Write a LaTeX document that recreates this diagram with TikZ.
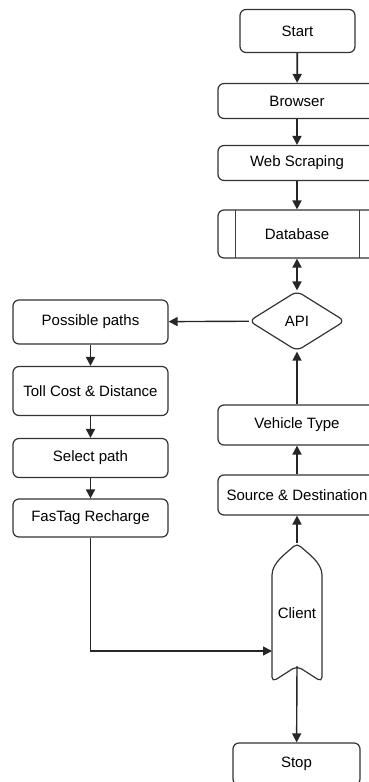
\documentclass[tikz,border=0pt]{standalone}
\usepackage{fontspec}
\setmainfont{Liberation Sans}
\usetikzlibrary{shapes.geometric,arrows.meta}
\begin{document}
\begin{tikzpicture}[x=1pt,y=-1pt,
  every node/.style={font=\fontsize{15}{18}\selectfont},
  box/.style={draw=black!80,line width=1.2pt,rounded corners=6pt,minimum width=155pt,minimum height=38pt,inner sep=0pt,align=center},
  flow/.style={-{Triangle[length=9pt,width=9pt]},draw=black!85,line width=1.8pt}]
  \useasboundingbox (0,0) rectangle (369,782);
  % Right column: collecting data
  \node[box,minimum width=115pt,minimum height=43pt] (start) at (297.5,31) {Start};
  \node[box,minimum width=158pt,minimum height=35pt] (browser) at (297,101) {Browser};
  \node[box,minimum width=158pt,minimum height=35pt] (scrape) at (297,163) {Web Scraping};
  \node[box,minimum width=158pt,minimum height=48pt] (db) at (297,234) {Database};
  \draw[black!75,line width=1pt] (235,210) -- (235,258) (359,210) -- (359,258);
  \node[draw=black!80,line width=1.2pt,diamond,rounded corners=6pt,aspect=1.6,minimum width=96pt,minimum height=60pt,inner sep=0pt] (api) at (297,321) {API};
  \draw[flow] (start) -- (browser);
  \draw[flow] (browser) -- (scrape);
  \draw[flow] (scrape) -- (db);
  \draw[flow,{Triangle[length=9pt,width=9pt]}-{Triangle[length=9pt,width=9pt]}] (db) -- (api);
  % Left column: route and payment
  \node[box,minimum height=44pt] (paths) at (90.5,322) {Possible paths};
  \node[box,minimum height=49pt] (toll) at (90.5,391) {Toll Cost \& Distance};
  \node[box,minimum height=39pt] (select) at (90.5,458) {Select path};
  \node[box,minimum height=38pt] (fastag) at (90.5,518) {FasTag Recharge};
  \draw[flow,line width=1.4pt] (api) -- (paths);
  \draw[flow] (paths) -- (toll);
  \draw[flow] (toll) -- (select);
  \draw[flow] (select) -- (fastag);
  % Client side
  \node[box,minimum width=158pt,minimum height=40pt] (vehicle) at (297,425) {Vehicle Type};
  \node[box,minimum width=158pt,minimum height=40pt] (src) at (297,495) {Source \& Destination};
  \node[minimum width=50pt,minimum height=140pt,inner sep=0pt] (client) at (297,613) {};
  \node at (297,613) {Client};
  \draw[black!80,line width=1.2pt,rounded corners=5pt] (272,682) -- (272,580)
    .. controls (272,562) and (288,552) .. (297,543)
    .. controls (306,552) and (322,562) .. (322,580) -- (322,682) -- (297,666) -- cycle;
  \coordinate (ctop) at (297,543);
  \coordinate (cin) at (272,651);
  \coordinate (cout) at (297,666);
  \node[box,minimum width=127pt,minimum height=42pt] (stop) at (296.5,764) {Stop};
  \draw[flow] (ctop) -- (src);
  \draw[flow] (src) -- (vehicle);
  \draw[flow,line width=1.4pt] (vehicle) -- (api);
  \draw[flow,line width=1.4pt] (fastag) |- (cin);
  \draw[flow,line width=1.4pt] (cout) -- (stop);
\end{tikzpicture}
\end{document}
